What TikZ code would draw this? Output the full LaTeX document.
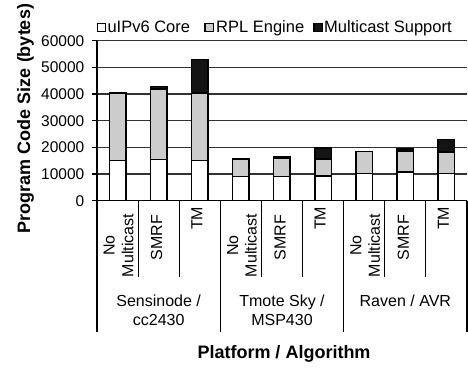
\documentclass[tikz,border=0pt]{standalone}
\usepackage{fontspec}
\setmainfont{Liberation Sans}
\definecolor{rplgray}{RGB}{204,204,204}
\definecolor{mcblack}{RGB}{20,20,20}
\definecolor{gridgray}{RGB}{50,50,50}
\begin{document}
\begin{tikzpicture}[x=1pt,y=1pt,
  lbl/.style={font=\fontsize{16}{18.6}\selectfont, inner sep=0pt},
  leglbl/.style={font=\fontsize{16.5}{19}\selectfont, inner sep=0pt, anchor=base west},
  ticklbl/.style={font=\fontsize{15.5}{18}\selectfont, inner sep=0pt, anchor=east},
  titlelbl/.style={font=\fontsize{18}{21}\selectfont\bfseries, inner sep=0pt, anchor=base},
  gridln/.style={draw=gridgray, line width=1.1pt},
  axisln/.style={draw=black, line width=1.1pt},
  barbox/.style={draw=black, line width=1.5pt},
  corefill/.style={barbox, fill=white},
  rplfill/.style={barbox, fill=rplgray},
  mcfill/.style={barbox, fill=mcblack}]
\useasboundingbox (0,0) rectangle (468,367);
% axis geometry
\def\xz{97}\def\yz{166.3}\def\xe{466.7}\def\cw{41.11}
\coordinate (O) at (\xz,\yz);
\coordinate (E) at (\xe,\yz);
% gridlines and y ticks
\foreach \v in {1,...,6}{
  \draw[gridln] (\xz,{\yz+26.67*\v}) -- (\xe,{\yz+26.67*\v});
}
\foreach \v/\t in {0/0,1/10000,2/20000,3/30000,4/40000,5/50000,6/60000}{
  \draw[axisln] (91.5,{\yz+26.67*\v}) -- (\xz,{\yz+26.67*\v});
  \node[ticklbl] (yl\v) at (84.5,{\yz+26.67*\v}) {\t};
}
% bars: index/core/rpl/mc (thousands)
\foreach \k/\c/\r/\m in {0/15.0/40.4/40.4, 1/15.4/41.8/42.9, 2/15.0/40.4/52.9,
                         3/9.0/15.6/15.6, 4/9.1/16.1/16.6, 5/9.2/15.6/19.7,
                         6/10.2/18.4/18.4, 7/10.7/18.6/19.3, 8/10.2/18.2/23.0}{
  \pgfmathsetmacro{\cx}{\xz+\cw*(\k+0.5)}
  \draw[corefill] ({\cx-8.25},\yz) rectangle ({\cx+8.25},{\yz+2.667*\c});
  \draw[rplfill] ({\cx-8.25},{\yz+2.667*\c}) rectangle ({\cx+8.25},{\yz+2.667*\r});
  \ifdim\m pt>\r pt
    \draw[mcfill] ({\cx-8.25},{\yz+2.667*\r}) rectangle ({\cx+8.25},{\yz+2.667*\m});
  \fi
}
% axes
\draw[axisln] (O) -- (\xz,326.3);
\draw[axisln] (O) -- (E);
% category ticks and separators
\foreach \k in {0,...,9}{
  \draw[axisln] ({\xz+\cw*\k},\yz) -- ({\xz+\cw*\k},158);
}
\foreach \k in {1,2,4,5,7,8}{
  \draw[axisln] ({\xz+\cw*\k},\yz) -- ({\xz+\cw*\k},90.3);
}
\foreach \k in {0,3,6,9}{
  \draw[axisln] ({\xz+\cw*\k},\yz) -- ({\xz+\cw*\k},35.3);
}
% category labels
\foreach \g in {0,1,2}{
  \pgfmathsetmacro{\gx}{\xz+3*\cw*\g}
  \node[lbl, rotate=90, align=center] (nm\g) at ({\gx+\cw*0.5+1},121.5) {No\\Multicast};
  \node[lbl, rotate=90] (sm\g) at ({\gx+\cw*1.5-2},129.2) {SMRF};
  \node[lbl, rotate=90] (tm\g) at ({\gx+\cw*2.5-3},148.7) {TM};
}
% group labels
\node[lbl, anchor=base] (g1a) at ({\xz+1.5*\cw},60.3) {Sensinode /};
\node[lbl, anchor=base] (g1b) at ({\xz+1.5*\cw},41.3) {cc2430};
\node[lbl, anchor=base] (g2a) at ({\xz+4.5*\cw},60.3) {Tmote Sky /};
\node[lbl, anchor=base] (g2b) at ({\xz+4.5*\cw},41.3) {MSP430};
\node[lbl, anchor=base] (g3a) at ({\xz+7.5*\cw},60.3) {Raven / AVR};
% legend
\draw[barbox, line width=1.1pt, fill=white] (97.3,335.3) rectangle (105.7,343.7);
\node[leglbl] (lg1) at (107.3,334.7) {uIPv6 Core};
\draw[barbox, line width=1.1pt, fill=rplgray] (205,335.3) rectangle (213.5,343.7);
\node[leglbl] (lg2) at (216,334.7) {RPL Engine};
\draw[barbox, line width=1.1pt, fill=mcblack] (314,335.3) rectangle (322.5,343.7);
\node[leglbl] (lg3) at (324,334.7) {Multicast Support};
% titles
\node[titlelbl, rotate=90] (ytitle) at (30,248.5) {Program Code Size (bytes)};
\node[titlelbl] (xtitle) at (284,9) {Platform / Algorithm};
\end{tikzpicture}
\end{document}
